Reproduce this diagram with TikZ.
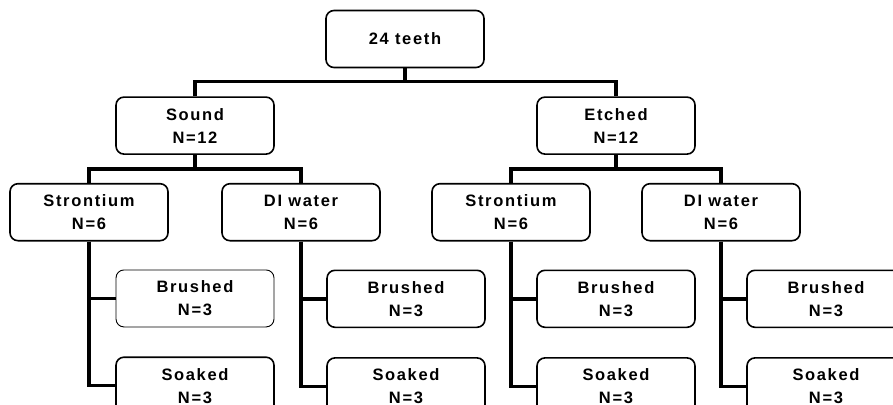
\documentclass[tikz,border=0pt]{standalone}
\usepackage{fontspec}
\setmainfont{Liberation Sans}[LetterSpace=10, BoldFont={Liberation Sans Bold}]
\usetikzlibrary{positioning}
\begin{document}
\begin{tikzpicture}[x=1pt, y=1pt, node distance=28pt,
    every node/.style={draw, rounded corners=8pt, line width=1.6pt,
      minimum width=158pt, minimum height=57pt, inner sep=0pt,
      align=center, font=\fontsize{16.5}{23}\selectfont\bfseries},
    link/.style={line width=3.5pt}]
\useasboundingbox (0,0) rectangle (893,-404);
\clip (0,0) rectangle (893,-404);
\node (teeth) at (405,-39) {24 teeth};
\node (sound) [below=of teeth, xshift=-210pt] {Sound\\N=12};
\node (etched) [below=of teeth, xshift=211pt] {Etched\\N=12};
\node (sstr) [below=of sound, xshift=-106pt] {Strontium\\N=6};
\node (sdi) [below=of sound, xshift=106pt] {DI water\\N=6};
\node (estr) [below=of etched, xshift=-105pt] {Strontium\\N=6};
\node (edi) [below=of etched, xshift=105pt] {DI water\\N=6};
\node (sstrbr) [below=of sstr, xshift=106pt, line width=0.9pt] {Brushed\\N=3};
\node (sstrso) [below=29pt of sstrbr] {Soaked\\N=3};
\node (sdibr) [below=of sdi, xshift=105pt] {Brushed\\N=3};
\node (sdiso) [below=29pt of sdibr] {Soaked\\N=3};
\node (estrbr) [below=of estr, xshift=105pt] {Brushed\\N=3};
\node (estrso) [below=29pt of estrbr] {Soaked\\N=3};
\node (edibr) [below=of edi, xshift=105pt] {Brushed\\N=3};
\node (ediso) [below=29pt of edibr] {Soaked\\N=3};
\draw[link] (teeth.south) -- ++(0,-13);
\draw[link] (sound.north) -- ++(0,15) -| (etched.north);
\draw[link] (sound.south) -- ++(0,-14);
\draw[link] (sstr.north) -- ++(0,14) -| (sdi.north);
\draw[link] (etched.south) -- ++(0,-14);
\draw[link] (estr.north) -- ++(0,14) -| (edi.north);
\draw[link] (sstr.south) |- (sstrbr.west);
\draw[link] (sstr.south) |- (sstrso.west);
\draw[link] (sdi.south) |- (sdibr.west);
\draw[link] (sdi.south) |- (sdiso.west);
\draw[link] (estr.south) |- (estrbr.west);
\draw[link] (estr.south) |- (estrso.west);
\draw[link] (edi.south) |- (edibr.west);
\draw[link] (edi.south) |- (ediso.west);
\end{tikzpicture}
\end{document}
